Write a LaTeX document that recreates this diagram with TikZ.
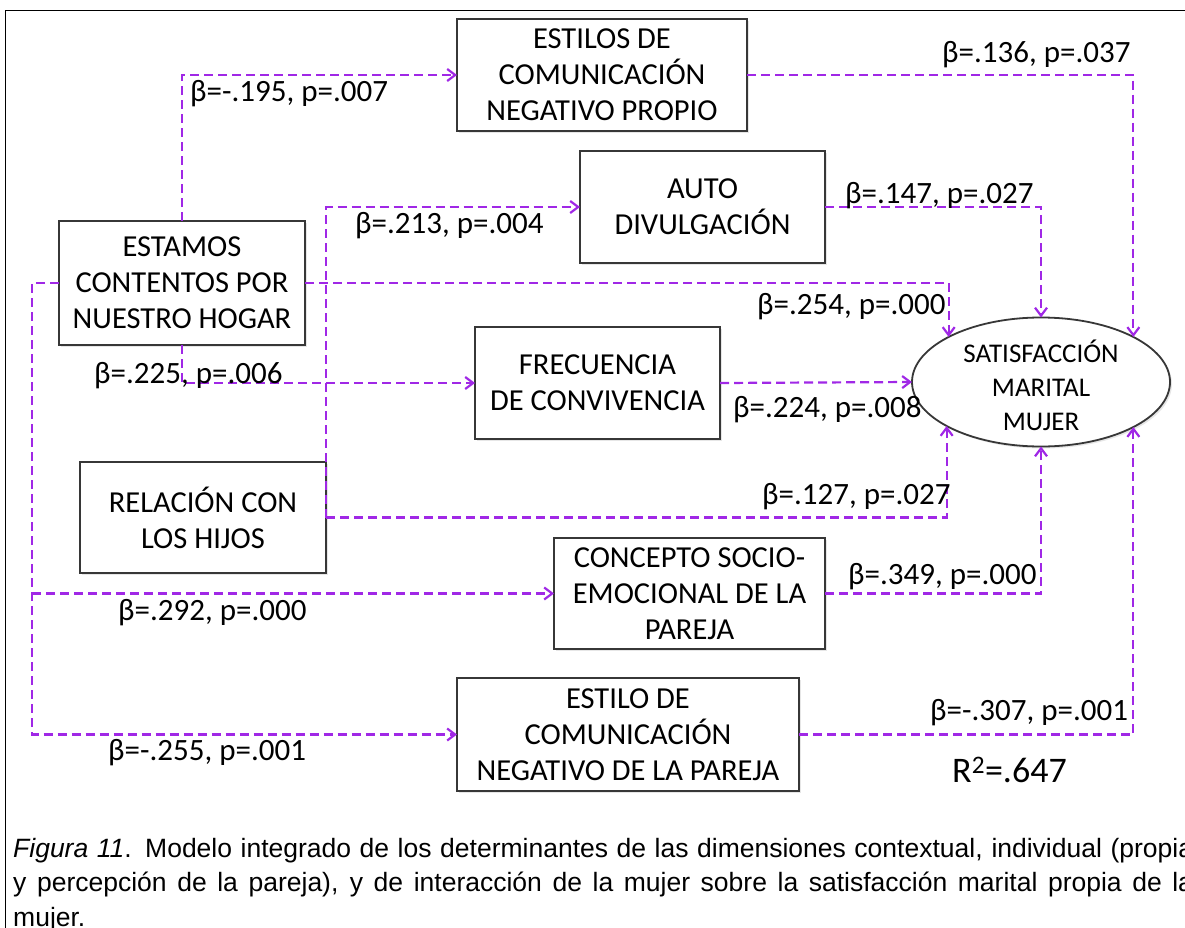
\documentclass[tikz,border=0pt]{standalone}
\usepackage{fontspec}
\setmainfont{Carlito}
\newfontfamily\capfont{Liberation Sans}
\usepackage{tikz}
\usetikzlibrary{
	arrows.meta,
	shapes.geometric,
	shadows,
	positioning
}
\definecolor{PathPurple}{RGB}{160,40,230}
\definecolor{BoxGray}{RGB}{55,55,55}

\begin{document}
\begin{tikzpicture}[x=1pt, y=-1pt,
		varbox/.style={draw=BoxGray, line width=1.8pt, fill=white, inner sep=0pt, outer sep=0pt,
			align=center, font=\fontsize{30.5}{36}\selectfont,
			drop shadow={shadow xshift=2pt, shadow yshift=-2pt, opacity=0.2}},
		arr/.style={draw=PathPurple, line width=2.2pt, dash pattern=on 9pt off 5pt,
			-{Straight Barb[length=8pt,width=12pt]}},
		lab/.style={anchor=west, inner sep=0pt, font=\fontsize{31}{36}\selectfont}]
		\useasboundingbox (0,0) rectangle (1185,928);
		\draw[line width=1.5pt] (5.5,1000) -- (5.5,10.5) -- (1300,10.5);
		% variables
		\node[varbox, minimum width=290, minimum height=112] (estp) at (602,75) {ESTILOS DE\\COMUNICACIÓN\\NEGATIVO PROPIO};
		\node[varbox, minimum width=245, minimum height=112] (auto) at (702.5,207) {AUTO\\DIVULGACIÓN};
		\node[varbox, minimum width=246, minimum height=124] (estamos) at (182,283) {ESTAMOS\\CONTENTOS POR\\NUESTRO HOGAR};
		\node[varbox, minimum width=245, minimum height=112] (frec) at (597.5,383) {FRECUENCIA\\DE CONVIVENCIA};
		\node[varbox, minimum width=246, minimum height=111] (relacion) at (203,517.5) {RELACIÓN CON\\LOS HIJOS};
		\node[varbox, minimum width=271, minimum height=111] (concepto) at (689.5,593.5) {CONCEPTO SOCIO-\\EMOCIONAL DE LA\\PAREJA};
		\node[varbox, minimum width=342, minimum height=113] (pareja) at (628,734.5) {ESTILO DE\\COMUNICACIÓN\\NEGATIVO DE LA PAREJA};
		\node[ellipse, draw=BoxGray, line width=1.8pt, fill=white, inner sep=0pt, outer sep=0pt,
			minimum width=258, minimum height=129,
			drop shadow={shadow xshift=2pt, shadow yshift=-2pt, opacity=0.2}] (sat) at (1041,382) {};
		\node[align=center, font=\fontsize{27}{34}\selectfont] (sattxt) at ([yshift=-3pt]sat.center) {SATISFACCIÓN\\MARITAL\\MUJER};
		\coordinate (lft) at ([xshift=-27pt]estamos.west);
		% paths
		\draw[arr] (estamos.north) |- (estp.west);
		\draw[arr] (relacion.east) |- (auto.west);
		\draw[arr] (estamos.south) |- (frec.west);
		\draw[arr] (estamos.west) -- (lft) |- (pareja.west);
		\draw[arr] (lft |- concepto.west) -- (concepto.west);
		\draw[arr] (estamos.east) -| (sat.154.3);
		\draw[arr] (relacion.east) -| (sat.205.7);
		\draw[arr] (estp.east) -| (sat.26.2);
		\draw[arr] (auto.east) -| (sat.north);
		\draw[arr] (frec.east) -- (sat.west);
		\draw[arr] (concepto.east) -| (sat.south);
		\draw[arr] (pareja.east) -| (sat.-26.2);
		% coefficients
		\node[lab] (b1) at (190,94) {β=-.195, p=.007};
		\node[lab] (b2) at (355,226) {β=.213, p=.004};
		\node[lab] (b3) at (757,307) {β=.254, p=.000};
		\node[lab] (b4) at (94,376) {β=.225, p=.006};
		\node[lab] (b5) at (733,410) {β=.224, p=.008};
		\node[lab] (b6) at (762,497) {β=.127, p=.027};
		\node[lab] (b7) at (118,613) {β=.292, p=.000};
		\node[lab] (b8) at (108,753) {β=-.255, p=.001};
		\node[lab] (b9) at (942,55) {β=.136, p=.037};
		\node[lab] (b10) at (845,196) {β=.147, p=.027};
		\node[lab] (b11) at (848,577) {β=.349, p=.000};
		\node[lab] (b12) at (930,713) {β=-.307, p=.001};
		\node[lab, font=\fontsize{36}{40}\selectfont] (rsq) at (952,770) {R\textsuperscript{2}=.647};
		% caption
		\node[anchor=north west, inner sep=0pt, text width=1180pt, align=justify,
			font=\capfont\fontsize{26.5}{34.5}\selectfont] (caption) at (13,838)
			{\noindent\hbox to 1180pt{\textit{Figura 11}. Modelo integrado de los determinantes de las dimensiones contextual, individual (propia}\\
			\noindent\hbox to 1180pt{y percepción de la pareja), y de interacción de la mujer sobre la satisfacción marital propia de la}\\
			mujer.};
	\end{tikzpicture}
\end{document}
